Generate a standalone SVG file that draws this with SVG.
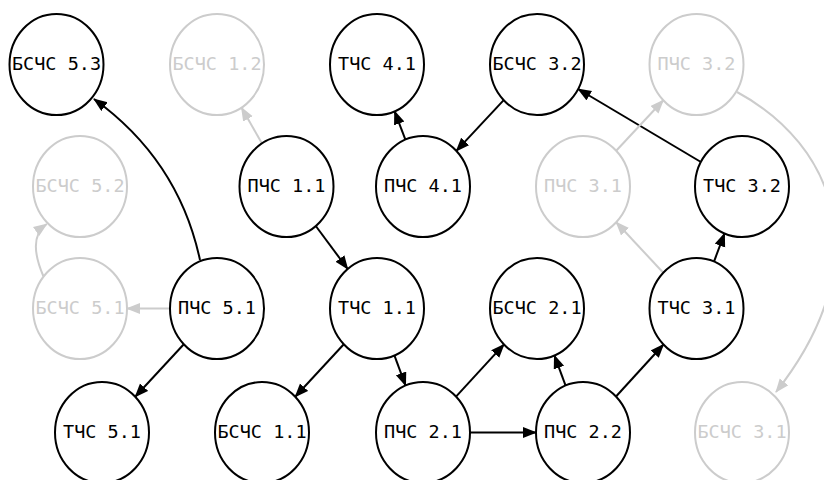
<svg xmlns="http://www.w3.org/2000/svg" width="824" height="480" viewBox="0 0 824 480">
  <defs>
    <marker id="arrow" markerUnits="userSpaceOnUse" markerWidth="16" markerHeight="12" refX="13" refY="5.5" orient="auto">
      <path d="M0,0 L14,5.5 L0,11 z" fill="#000"/>
    </marker>
    <marker id="arrow-dim" markerUnits="userSpaceOnUse" markerWidth="16" markerHeight="12" refX="13" refY="5.5" orient="auto">
      <path d="M0,0 L14,5.5 L0,11 z" fill="#cccccc"/>
    </marker>
  </defs>
  <style>
    .node ellipse { fill: #fff; stroke: #000; stroke-width: 2; }
    .node text { font-family: "DejaVu Sans Mono", "Liberation Mono", monospace; font-size: 18.5px; fill: #000; text-anchor: middle; }
    .node.dim ellipse { stroke: #cccccc; }
    .node.dim text { fill: #cccccc; }
    .edge { fill: none; stroke: #000; stroke-width: 2; marker-end: url(#arrow); }
    .edge.dim { stroke: #cccccc; marker-end: url(#arrow-dim); }
  </style>
  <rect width="824" height="480" fill="#fff"/>

  <g id="edges">
    <path class="edge" d="M200,260 Q178.5,160 94,99"/>
    <line class="edge dim" x1="170" y1="308.5" x2="127" y2="308.5"/>
    <path class="edge dim" d="M43.3,276 Q26.9,237.8 46.7,224"/>
    <line class="edge" x1="183.8" y1="344.3" x2="135.2" y2="396.7"/>
    <line class="edge dim" x1="262" y1="143.4" x2="241.5" y2="107.6"/>
    <line class="edge" x1="315.8" y1="226" x2="347.7" y2="269"/>
    <line class="edge" x1="405.4" y1="139.7" x2="394.6" y2="111.3"/>
    <line class="edge" x1="503.7" y1="100.1" x2="456.3" y2="150.9"/>
    <line class="edge" x1="700.9" y1="162" x2="578.1" y2="89"/>
    <line class="edge dim" x1="616.2" y1="150.8" x2="663.3" y2="100.2"/>
    <path class="edge dim" d="M737,92 C835,145 880,260 776,392"/>
    <line class="edge" x1="714" y1="261.6" x2="724.5" y2="233.4"/>
    <line class="edge dim" x1="663.3" y1="272.8" x2="616.2" y2="222.2"/>
    <line class="edge" x1="343.8" y1="344.3" x2="295.2" y2="396.7"/>
    <line class="edge" x1="394.4" y1="355.4" x2="405.6" y2="385.6"/>
    <line class="edge" x1="456" y1="396.6" x2="504" y2="344.4"/>
    <line class="edge" x1="470" y1="432.5" x2="536" y2="432.5"/>
    <line class="edge" x1="565.6" y1="385.6" x2="554.4" y2="355.4"/>
    <line class="edge" x1="616" y1="396.5" x2="663.5" y2="344.5"/>
  </g>

  <g id="bschs-5-3" class="node"><ellipse cx="56.5" cy="64.5" rx="47" ry="50.5"/><text x="56.5" y="69.5">БСЧС 5.3</text></g>
  <g id="bschs-1-2" class="node dim"><ellipse cx="217" cy="64.5" rx="47" ry="50.5"/><text x="217" y="69.5">БСЧС 1.2</text></g>
  <g id="tchs-4-1" class="node"><ellipse cx="377" cy="64.5" rx="47" ry="50.5"/><text x="377" y="69.5">ТЧС 4.1</text></g>
  <g id="bschs-3-2" class="node"><ellipse cx="537" cy="64.5" rx="47" ry="50.5"/><text x="537" y="69.5">БСЧС 3.2</text></g>
  <g id="pchs-3-2" class="node dim"><ellipse cx="696.5" cy="64.5" rx="47" ry="50.5"/><text x="696.5" y="69.5">ПЧС 3.2</text></g>

  <g id="bschs-5-2" class="node dim"><ellipse cx="80" cy="186.5" rx="47" ry="50.5"/><text x="80" y="191.5">БСЧС 5.2</text></g>
  <g id="pchs-1-1" class="node"><ellipse cx="286.5" cy="186.5" rx="47" ry="50.5"/><text x="286.5" y="191.5">ПЧС 1.1</text></g>
  <g id="pchs-4-1" class="node"><ellipse cx="423" cy="186.5" rx="47" ry="50.5"/><text x="423" y="191.5">ПЧС 4.1</text></g>
  <g id="pchs-3-1" class="node dim"><ellipse cx="583" cy="186.5" rx="47" ry="50.5"/><text x="583" y="191.5">ПЧС 3.1</text></g>
  <g id="tchs-3-2" class="node"><ellipse cx="742" cy="186.5" rx="47" ry="50.5"/><text x="742" y="191.5">ТЧС 3.2</text></g>

  <g id="bschs-5-1" class="node dim"><ellipse cx="80" cy="308.5" rx="47" ry="50.5"/><text x="80" y="313.5">БСЧС 5.1</text></g>
  <g id="pchs-5-1" class="node"><ellipse cx="217" cy="308.5" rx="47" ry="50.5"/><text x="217" y="313.5">ПЧС 5.1</text></g>
  <g id="tchs-1-1" class="node"><ellipse cx="377" cy="308.5" rx="47" ry="50.5"/><text x="377" y="313.5">ТЧС 1.1</text></g>
  <g id="bschs-2-1" class="node"><ellipse cx="537" cy="308.5" rx="47" ry="50.5"/><text x="537" y="313.5">БСЧС 2.1</text></g>
  <g id="tchs-3-1" class="node"><ellipse cx="696.5" cy="308.5" rx="47" ry="50.5"/><text x="696.5" y="313.5">ТЧС 3.1</text></g>

  <g id="tchs-5-1" class="node"><ellipse cx="102" cy="432.5" rx="47" ry="50.5"/><text x="102" y="437.5">ТЧС 5.1</text></g>
  <g id="bschs-1-1" class="node"><ellipse cx="262" cy="432.5" rx="47" ry="50.5"/><text x="262" y="437.5">БСЧС 1.1</text></g>
  <g id="pchs-2-1" class="node"><ellipse cx="423" cy="432.5" rx="47" ry="50.5"/><text x="423" y="437.5">ПЧС 2.1</text></g>
  <g id="pchs-2-2" class="node"><ellipse cx="583" cy="432.5" rx="47" ry="50.5"/><text x="583" y="437.5">ПЧС 2.2</text></g>
  <g id="bschs-3-1" class="node dim"><ellipse cx="742" cy="432.5" rx="47" ry="50.5"/><text x="742" y="437.5">БСЧС 3.1</text></g>
</svg>
